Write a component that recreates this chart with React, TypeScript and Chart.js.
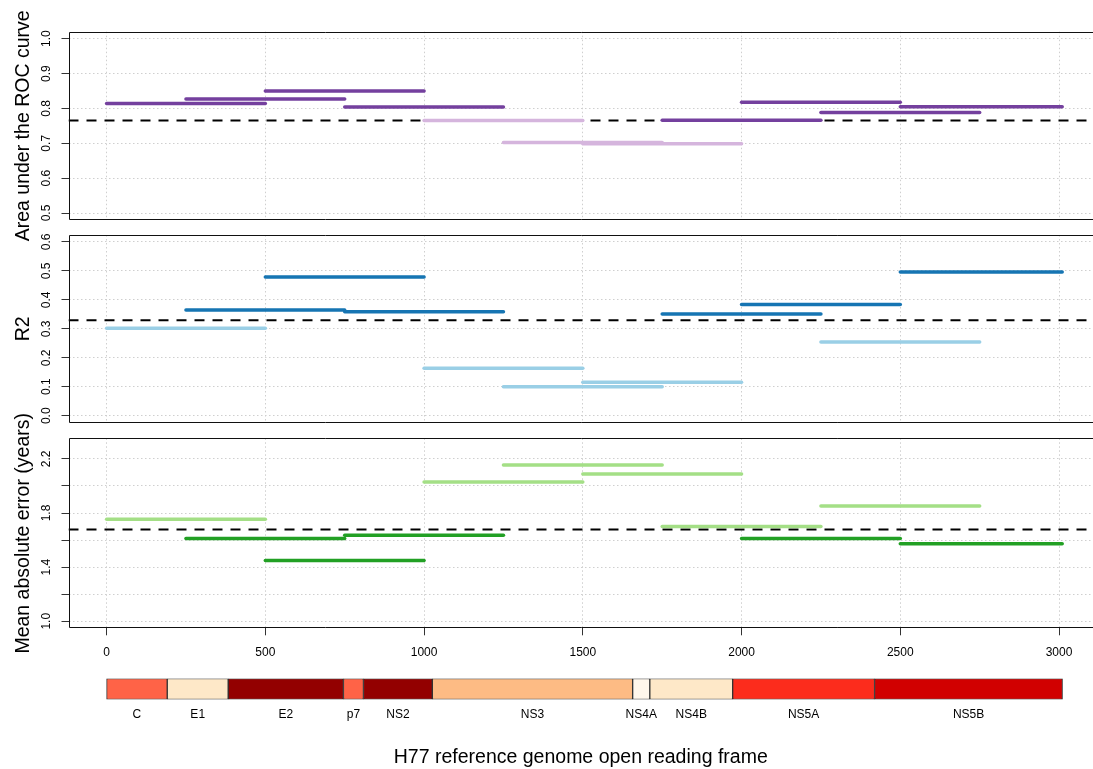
import React, { useEffect, useRef } from 'react';
import { Chart, registerables } from 'chart.js';

Chart.register(...registerables);

const FONT = "'Liberation Sans', Arial, Helvetica, sans-serif";

// ---- x axis (genome position, amino acids) ----
const X_MIN = -120;
const X_MAX = 3107;
const X_TICKS = [0, 500, 1000, 1500, 2000, 2500, 3000];

// ---- sliding windows ----
const WINDOW_START = [0, 250, 500, 750, 1000, 1250, 1500, 1750, 2000, 2250, 2500];
const WINDOW_END = [500, 750, 1000, 1250, 1500, 1750, 2000, 2250, 2500, 2750, 3010];

// ---- panel 1: AUC ----
const AUC = [0.814, 0.827, 0.85, 0.804, 0.765, 0.702, 0.699, 0.766, 0.818, 0.788, 0.805];
const AUC_SIG = [1, 1, 1, 1, 0, 0, 0, 1, 1, 1, 1];
const AUC_BASELINE = 0.765;
const AUC_TICKS = [0.5, 0.6, 0.7, 0.8, 0.9, 1.0];
const AUC_LABELS = ['0.5', '0.6', '0.7', '0.8', '0.9', '1.0'];

// ---- panel 2: R2 ----
const R2 = [0.302, 0.365, 0.479, 0.359, 0.164, 0.1, 0.116, 0.351, 0.384, 0.255, 0.496];
const R2_SIG = [0, 1, 1, 1, 0, 0, 0, 1, 1, 0, 1];
const R2_BASELINE = 0.33;
const R2_TICKS = [0, 0.1, 0.2, 0.3, 0.4, 0.5, 0.6];
const R2_LABELS = ['0.0', '0.1', '0.2', '0.3', '0.4', '0.5', '0.6'];

// ---- panel 3: MAE ----
const MAE = [1.754, 1.612, 1.449, 1.635, 2.029, 2.155, 2.088, 1.701, 1.612, 1.851, 1.573];
const MAE_SIG = [0, 1, 1, 1, 0, 0, 0, 0, 1, 0, 1];
const MAE_BASELINE = 1.679;
const MAE_TICKS = [1.0, 1.2, 1.4, 1.6, 1.8, 2.0, 2.2];
const MAE_LABELS = ['1.0', '', '1.4', '', '1.8', '', '2.2'];

// ---- genome map ----
const GENE_NAMES = ['C', 'E1', 'E2', 'p7', 'NS2', 'NS3', 'NS4A', 'NS4B', 'NS5A', 'NS5B'];
const GENE_START = [0, 191, 383, 746, 809, 1026, 1657, 1711, 1972, 2419];
const GENE_END = [191, 383, 746, 809, 1026, 1657, 1711, 1972, 2419, 3011];
const GENE_COLORS = ['#FF6347', '#FEE8C8', '#930000', '#FF6347', '#930000', '#FDBB84', '#FFF7EC', '#FEE8C8', '#FC2C1C', '#D10000'];

const GRID_COLOR = '#cfcfcf';
const GRID_DASH = [1.5, 2.5];
const PLOT_LEFT = 68.5;

const boxPlugin = {
  id: 'panelBox',
  afterDraw(chart: any) {
    const { ctx, chartArea: a } = chart;
    const l = Math.round(a.left) + 0.5;
    const t = Math.round(a.top) + 0.5;
    const b = Math.round(a.bottom) - 0.5;
    ctx.save();
    ctx.lineWidth = 1;
    ctx.strokeStyle = '#111';
    ctx.beginPath();
    ctx.moveTo(a.right + 2, t);
    ctx.lineTo(l, t);
    ctx.lineTo(l, b);
    ctx.lineTo(a.right + 2, b);
    ctx.stroke();
    ctx.restore();
  },
};

type PanelSpec = {
  values: number[];
  sig: number[];
  baseline: number;
  dark: string;
  light: string;
  yMin: number;
  yMax: number;
  ticks: number[];
  labels: string[];
  title: string;
  padTop: number;
  padBottom: number;
  showX: boolean;
};

function panelConfig(p: PanelSpec): any {
  const segs = p.values.map((v, i) => ({
    data: [
      { x: WINDOW_START[i], y: v },
      { x: WINDOW_END[i], y: v },
    ],
    borderColor: p.sig[i] ? p.dark : p.light,
    borderWidth: 3.5,
    borderCapStyle: 'round',
    pointRadius: 0,
    fill: false,
    order: 0,
  }));
  const base = {
    data: [
      { x: X_MIN, y: p.baseline },
      { x: X_MAX, y: p.baseline },
    ],
    borderColor: '#000',
    borderWidth: 2,
    borderDash: [10, 8],
    pointRadius: 0,
    fill: false,
    order: 1,
  };
  const tickFont = { family: FONT, size: 12 };
  return {
    type: 'line',
    data: { datasets: [...segs, base] },
    plugins: [boxPlugin],
    options: {
      animation: false,
      responsive: false,
      events: [],
      layout: { padding: { top: p.padTop, bottom: p.padBottom, left: 0, right: 0 } },
      plugins: { legend: { display: false }, tooltip: { enabled: false }, title: { display: false } },
      scales: {
        x: {
          type: 'linear',
          position: 'bottom',
          min: X_MIN,
          max: X_MAX,
          afterBuildTicks: (s: any) => {
            s.ticks = X_TICKS.map((v) => ({ value: v }));
          },
          afterFit: (s: any) => {
            s.height = p.showX ? 35 : 0;
            s.paddingLeft = 0;
            s.paddingRight = 0;
          },
          grid: {
            display: true,
            drawOnChartArea: true,
            drawTicks: p.showX,
            tickLength: 7,
            color: GRID_COLOR,
            tickColor: '#333',
            lineWidth: 1,
            tickWidth: 1,
            tickBorderDash: [],
          },
          border: { display: false, dash: GRID_DASH },
          ticks: {
            display: p.showX,
            autoSkip: false,
            minRotation: 0,
            maxRotation: 0,
            padding: 10,
            color: '#000',
            font: tickFont,
            callback: (v: any) => String(v),
          },
        },
        y: {
          type: 'linear',
          position: 'left',
          min: p.yMin,
          max: p.yMax,
          afterBuildTicks: (s: any) => {
            s.ticks = p.ticks.map((v) => ({ value: v }));
          },
          afterFit: (s: any) => {
            s.width = PLOT_LEFT;
            s.paddingTop = 0;
            s.paddingBottom = 0;
          },
          grid: {
            display: true,
            drawOnChartArea: true,
            drawTicks: true,
            tickLength: 7,
            color: GRID_COLOR,
            tickColor: '#333',
            lineWidth: 1,
            tickWidth: 1,
            tickBorderDash: [],
          },
          border: { display: false, dash: GRID_DASH },
          ticks: {
            autoSkip: false,
            minRotation: 90,
            maxRotation: 90,
            crossAlign: 'center',
            padding: 6,
            color: '#000',
            font: tickFont,
            callback: (_v: any, i: number) => p.labels[i],
          },
          title: {
            display: true,
            text: p.title,
            color: '#000',
            font: { family: FONT, size: 19.5 },
            padding: { top: 12, bottom: 0 },
          },
        },
      },
    },
  };
}

function genomeConfig(): any {
  const mids = GENE_START.map((s, i) => (s + GENE_END[i]) / 2);
  return {
    type: 'bar',
    data: {
      labels: ['ORF'],
      datasets: GENE_NAMES.map((n, i) => ({
        label: n,
        data: [[GENE_START[i], GENE_END[i]]],
        backgroundColor: GENE_COLORS[i],
        borderColor: '#333',
        borderWidth: 1,
        borderSkipped: false,
        grouped: false,
        barPercentage: 1,
        categoryPercentage: 1,
      })),
    },
    options: {
      animation: false,
      responsive: false,
      events: [],
      indexAxis: 'y',
      layout: { padding: { left: PLOT_LEFT, top: 13.5, right: 0, bottom: 0 } },
      plugins: { legend: { display: false }, tooltip: { enabled: false } },
      scales: {
        x: {
          type: 'linear',
          position: 'bottom',
          min: X_MIN,
          max: X_MAX,
          afterBuildTicks: (s: any) => {
            s.ticks = mids.map((v) => ({ value: v }));
          },
          afterFit: (s: any) => {
            s.height = 69.5;
            s.paddingLeft = 0;
            s.paddingRight = 0;
          },
          grid: { display: false, drawTicks: false, tickLength: 0 },
          border: { display: false },
          ticks: {
            autoSkip: false,
            minRotation: 0,
            maxRotation: 0,
            padding: 8,
            color: '#000',
            font: { family: FONT, size: 12 },
            callback: (_v: any, i: number) => GENE_NAMES[i],
          },
          title: {
            display: true,
            text: 'H77 reference genome open reading frame',
            color: '#000',
            font: { family: FONT, size: 19.5 },
            padding: { top: 0, bottom: 0 },
          },
        },
        y: { type: 'category', display: false },
      },
    },
  };
}

function ChartCanvas({ top, height, config }: { top: number; height: number; config: () => any }) {
  const ref = useRef<HTMLCanvasElement | null>(null);
  useEffect(() => {
    if (!ref.current) return;
    const chart = new Chart(ref.current, config());
    return () => chart.destroy();
  }, []);
  return (
    <canvas
      ref={ref}
      width={1093}
      height={height}
      style={{ position: 'absolute', left: 0, top, width: 1093, height }}
    />
  );
}

export default function App() {
  return (
    <div
      style={{
        position: 'absolute',
        left: 0,
        top: 0,
        width: 1093,
        height: 769,
        overflow: 'hidden',
        background: '#fff',
      }}
    >
      <ChartCanvas
        top={0}
        height={245}
        config={() =>
          panelConfig({
            values: AUC,
            sig: AUC_SIG,
            baseline: AUC_BASELINE,
            dark: '#74409E',
            light: '#D5B5DD',
            yMin: 0.48,
            yMax: 1.02,
            ticks: AUC_TICKS,
            labels: AUC_LABELS,
            title: 'Area under the ROC curve',
            padTop: 31.7,
            padBottom: 25,
            showX: false,
          })
        }
      />
      <ChartCanvas
        top={222}
        height={215}
        config={() =>
          panelConfig({
            values: R2,
            sig: R2_SIG,
            baseline: R2_BASELINE,
            dark: '#1675B3',
            light: '#9ACFE6',
            yMin: -0.024,
            yMax: 0.624,
            ticks: R2_TICKS,
            labels: R2_LABELS,
            title: 'R2',
            padTop: 13,
            padBottom: 14.3,
            showX: false,
          })
        }
      />
      <ChartCanvas
        top={400}
        height={264}
        config={() =>
          panelConfig({
            values: MAE,
            sig: MAE_SIG,
            baseline: MAE_BASELINE,
            dark: '#22A024',
            light: '#A4DF86',
            yMin: 0.948,
            yMax: 2.352,
            ticks: MAE_TICKS,
            labels: MAE_LABELS,
            title: 'Mean absolute error (years)',
            padTop: 38.3,
            padBottom: 0.7,
            showX: true,
          })
        }
      />
      <ChartCanvas top={665} height={104} config={genomeConfig} />
    </div>
  );
}
